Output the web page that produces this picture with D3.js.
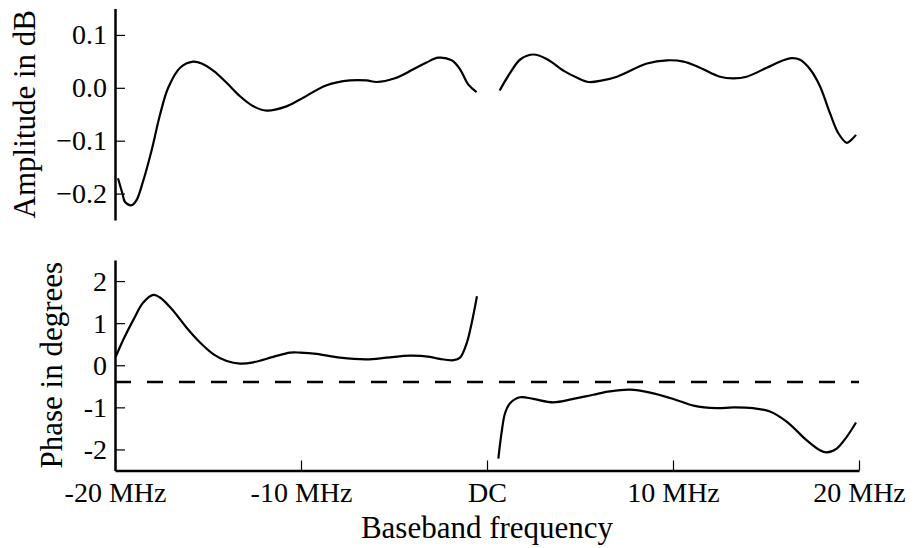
<!DOCTYPE html>
<html>
<head>
<meta charset="utf-8">
<script src="https://cdn.jsdelivr.net/npm/d3@7"></script>
<style>
  body { margin: 0; background: #fff; }
  text { font-family: "Liberation Serif", "DejaVu Serif", serif; fill: #000; }
</style>
</head>
<body>
<div id="chart"></div>
<script>
// x in MHz, amplitude in dB, phase in degrees
const ampLeftFreq = [-19.84, -19.6, -19.46, -19.1, -18.85, -18.5, -18.03, -17.58, -17.14, -16.5, -15.8, -15.34, -14.7, -14.0, -13.28, -12.56, -11.85, -10.86, -10.05, -8.62, -7.37, -6.47, -5.93, -4.95, -3.96, -3.25, -2.62, -1.9, -1.45, -1.0, -0.56];
const ampLeftVal  = [-0.171, -0.2, -0.216, -0.222, -0.213, -0.178, -0.118, -0.051, 0.0, 0.038, 0.0495, 0.046, 0.032, 0.0095, -0.016, -0.035, -0.043, -0.036, -0.022, 0.005, 0.014, 0.014, 0.011, 0.018, 0.035, 0.048, 0.057, 0.052, 0.035, 0.006, -0.008];
const ampRightFreq = [0.68, 1.26, 1.8, 2.51, 3.23, 4.13, 4.85, 5.47, 6.2, 6.99, 8.6, 9.68, 10.57, 11.45, 12.53, 13.24, 13.96, 15.04, 15.93, 16.38, 16.83, 17.37, 17.9, 18.44, 18.89, 19.34, 19.6, 19.84];
const ampRightVal  = [-0.005, 0.029, 0.054, 0.063, 0.054, 0.032, 0.019, 0.011, 0.014, 0.021, 0.046, 0.052, 0.0495, 0.038, 0.021, 0.018, 0.021, 0.038, 0.052, 0.056, 0.053, 0.035, 0.003, -0.048, -0.086, -0.104, -0.098, -0.089];

const phLeftFreq = [-19.96, -19.55, -19.0, -18.48, -17.94, -17.58, -16.86, -16.15, -15.43, -14.7, -13.99, -13.28, -12.56, -11.49, -10.59, -10.05, -9.16, -7.9, -6.47, -5.39, -4.14, -3.06, -2.53, -1.8, -1.45, -1.08, -0.82, -0.54];
const phLeftVal  = [0.2, 0.61, 1.09, 1.49, 1.67, 1.61, 1.29, 0.89, 0.54, 0.26, 0.1, 0.04, 0.07, 0.2, 0.3, 0.3, 0.27, 0.18, 0.14, 0.18, 0.23, 0.2, 0.15, 0.12, 0.18, 0.54, 1.01, 1.64];
const phRightFreq = [0.61, 0.79, 0.97, 1.24, 1.77, 2.49, 3.56, 4.64, 5.71, 6.61, 7.69, 8.77, 10.02, 11.1, 12.35, 13.24, 14.32, 15.21, 16.11, 17.18, 17.9, 18.26, 18.8, 19.34, 19.84];
const phRightVal  = [-2.22, -1.58, -1.14, -0.9, -0.76, -0.8, -0.88, -0.8, -0.7, -0.62, -0.58, -0.65, -0.8, -0.96, -1.02, -1.0, -1.02, -1.1, -1.34, -1.78, -2.02, -2.07, -1.98, -1.7, -1.36];

const phaseRef = -0.4;

const xTicks = [-20, -10, 0, 10, 20];
const xTickLabels = ["-20 MHz", "-10 MHz", "DC", "10 MHz", "20 MHz"];
const ampTicks = [-0.2, -0.1, 0, 0.1];
const ampTickLabels = ["\u22120.2", "\u22120.1", "0.0", "0.1"];
const phTicks = [-2, -1, 0, 1, 2];
const phTickLabels = ["-2", "-1", "0", "1", "2"];

const width = 915, height = 548;
const left = 115, right = 859;

const svg = d3.select("#chart").append("svg")
    .attr("width", width)
    .attr("height", height);

const x = d3.scaleLinear().domain([-20, 20]).range([left, right]);
const yAmp = d3.scaleLinear().domain([-0.25, 0.15]).range([220, 8.5]);
const yPh = d3.scaleLinear().domain([-2.5, 2.5]).range([470.5, 260]);

function styleAxis(g) {
    g.select(".domain").attr("stroke-width", 2.5);
    g.selectAll(".tick line").attr("stroke-width", 1.2);
    g.selectAll(".tick text").style("font-size", "28px");
}

// top panel y axis
svg.append("g")
    .attr("transform", "translate(" + left + ",0)")
    .call(d3.axisLeft(yAmp).tickValues(ampTicks)
        .tickFormat((d, i) => ampTickLabels[i])
        .tickSizeInner(-10).tickSizeOuter(0).tickPadding(8))
    .call(styleAxis);

// bottom panel y axis
svg.append("g")
    .attr("transform", "translate(" + left + ",0)")
    .call(d3.axisLeft(yPh).tickValues(phTicks)
        .tickFormat((d, i) => phTickLabels[i])
        .tickSizeInner(-10).tickSizeOuter(0).tickPadding(8))
    .call(styleAxis);

// x axis
svg.append("g")
    .attr("transform", "translate(0," + yPh(-2.5) + ")")
    .call(d3.axisBottom(x).tickValues(xTicks)
        .tickFormat((d, i) => xTickLabels[i])
        .tickSizeInner(-10).tickSizeOuter(0).tickPadding(12))
    .call(styleAxis);

const ampLine = d3.line().x(d => x(d[0])).y(d => yAmp(d[1])).curve(d3.curveCatmullRom);
const phLine = d3.line().x(d => x(d[0])).y(d => yPh(d[1])).curve(d3.curveCatmullRom);

[[ampLeftFreq, ampLeftVal], [ampRightFreq, ampRightVal]].forEach(s => {
    svg.append("path")
        .attr("d", ampLine(d3.zip(s[0], s[1])))
        .attr("fill", "none")
        .attr("stroke", "#000")
        .attr("stroke-width", 2.2);
});

[[phLeftFreq, phLeftVal], [phRightFreq, phRightVal]].forEach(s => {
    svg.append("path")
        .attr("d", phLine(d3.zip(s[0], s[1])))
        .attr("fill", "none")
        .attr("stroke", "#000")
        .attr("stroke-width", 2.2);
});

// dashed reference line
svg.append("line")
    .attr("x1", x(-20)).attr("x2", x(20))
    .attr("y1", yPh(phaseRef)).attr("y2", yPh(phaseRef))
    .attr("stroke", "#000")
    .attr("stroke-width", 2.5)
    .attr("stroke-dasharray", "16,16");

// labels
svg.append("text")
    .attr("transform", "translate(35," + (8.5 + 220) / 2 + ") rotate(-90)")
    .attr("text-anchor", "middle")
    .style("font-size", "31px")
    .text("Amplitude in dB");

svg.append("text")
    .attr("transform", "translate(62," + (260 + 470.5) / 2 + ") rotate(-90)")
    .attr("text-anchor", "middle")
    .style("font-size", "31px")
    .text("Phase in degrees");

svg.append("text")
    .attr("x", (left + right) / 2)
    .attr("y", 537.5)
    .attr("text-anchor", "middle")
    .style("font-size", "31px")
    .text("Baseband frequency");
</script>
</body>
</html>
